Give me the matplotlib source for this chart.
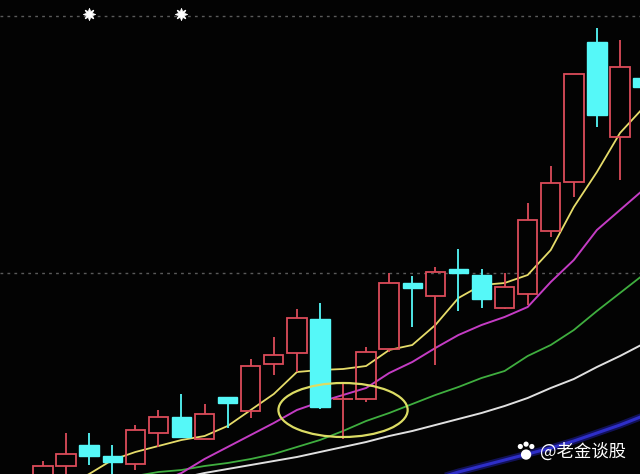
import numpy as np
import matplotlib
matplotlib.use('Agg')
import matplotlib.pyplot as plt
from matplotlib.patches import Rectangle, Ellipse

# daily candles
opens  = [9.88, 10.16, 10.58, 10.36, 10.20, 10.82, 11.14, 10.70, 11.54, 11.26, 12.20, 12.42, 13.10, 11.48,
          11.50, 12.50, 13.82, 13.56, 14.10, 13.98, 13.32, 13.60, 14.86, 15.84, 18.64, 16.74, 17.92]
highs  = [10.26, 10.82, 10.82, 10.58, 10.98, 11.28, 11.60, 11.40, 11.54, 12.30, 12.74, 13.30, 13.42, 11.80,
          12.54, 14.02, 13.96, 14.14, 14.50, 14.10, 14.02, 15.42, 16.16, 18.00, 18.92, 18.68, 18.08]
lows   = [9.80, 9.88, 10.18, 9.92, 10.08, 10.54, 10.74, 10.70, 10.92, 11.12, 11.98, 12.04, 11.30, 10.70,
          11.44, 12.44, 12.94, 12.18, 13.26, 13.32, 13.30, 13.38, 14.74, 15.54, 16.94, 15.88, 17.48]
closes = [10.16, 10.40, 10.36, 10.24, 10.88, 11.14, 10.74, 11.20, 11.42, 12.16, 12.38, 13.12, 11.34, 11.50,
          12.44, 13.82, 13.72, 14.04, 14.02, 13.50, 13.74, 15.08, 15.82, 18.00, 17.18, 18.14, 17.74]

# moving averages: (start index, values)
ma5_start = 1
ma5 = [9.75, 10.00, 10.28, 10.44, 10.56, 10.68, 10.76, 10.96, 11.28, 11.60, 12.04, 12.08, 12.10, 12.16,
       12.48, 12.58, 12.98, 13.52, 13.78, 13.82, 13.98, 14.48, 15.34, 16.04, 16.82, 17.32]
ma10_start = 5
ma10 = [9.84, 10.02, 10.30, 10.54, 10.78, 11.02, 11.28, 11.44, 11.58, 11.72, 12.02, 12.24, 12.52, 12.78,
        12.98, 13.14, 13.34, 13.84, 14.28, 14.88, 15.28, 15.68]
ma20_start = 4
ma20 = [9.96, 10.04, 10.08, 10.16, 10.22, 10.30, 10.40, 10.54, 10.68, 10.86, 11.06, 11.22, 11.40, 11.58,
        11.74, 11.92, 12.06, 12.36, 12.58, 12.88, 13.26, 13.62, 13.98]
ma30_start = 6
ma30 = [9.92, 10.02, 10.10, 10.18, 10.26, 10.34, 10.44, 10.54, 10.64, 10.76, 10.86, 10.98, 11.10, 11.22,
        11.36, 11.52, 11.72, 11.90, 12.14, 12.36, 12.60]
ma60_start = 17
ma60 = [9.90, 10.04, 10.16, 10.28, 10.40, 10.52, 10.66, 10.82, 10.98, 11.16]

ref_levels = [19.16, 14.02]
star_idx = [2, 6]
star_level = 19.20
circle_center = (13.0, 11.28)
circle_size = (5.6, 1.08)
watermark = '@老金谈股'

RED = '#dc4c5a'
CYAN = '#55f8f8'

fig = plt.figure(figsize=(6.4, 4.74), dpi=100, facecolor='#030303')
ax = fig.add_axes([0, 0, 1, 1])
ax.set_facecolor('#030303')
ax.set_xlim(-1.863, 25.867)
ax.set_ylim(10.0, 19.48)
ax.axis('off')

for lv in ref_levels:
  ax.axhline(lv, color='#5a5a5a', lw=1.0, ls=(0, (2, 3)), zorder=1)

def ma_line(start, vals, color, lw, alpha=1.0):
  xs = np.arange(start, start + len(vals))
  ax.plot(xs, vals, color=color, lw=lw, alpha=alpha, zorder=2)

# blue one has a soft glow in the screenshot
ma_line(ma60_start, ma60, '#1c1c90', 5.0, 0.6)
ma_line(ma60_start, ma60, '#2e2ec8', 2.2)
ma_line(ma30_start, ma30, '#e0e0e0', 1.4)
ma_line(ma20_start, ma20, '#3fae3f', 1.3)
ma_line(ma10_start, ma10, '#c43cc4', 1.4)

w = 0.84
for i in range(len(opens)):
  o, h, l, c = opens[i], highs[i], lows[i], closes[i]
  top, bot = max(o, c), min(o, c)
  if c >= o:
    ax.vlines(i, top, h, color=RED, lw=1.3, zorder=3)
    ax.vlines(i, l, bot, color=RED, lw=1.3, zorder=3)
    if top - bot < 0.05:
      ax.hlines(top, i - w / 2, i + w / 2, color=RED, lw=1.3, zorder=3)
    else:
      ax.add_patch(Rectangle((i - w / 2, bot), w, top - bot, facecolor='none',
                             edgecolor=RED, lw=1.3, zorder=3))
  else:
    ax.vlines(i, l, h, color=CYAN, lw=1.3, zorder=3)
    ax.add_patch(Rectangle((i - w / 2, bot), w, top - bot, facecolor=CYAN,
                           edgecolor=CYAN, lw=1.0, zorder=3))

ma_line(ma5_start, ma5, '#e6dc6a', 1.3)

ax.add_patch(Ellipse(circle_center, circle_size[0], circle_size[1], facecolor='none',
                     edgecolor='#dcdc64', lw=1.6, zorder=5))

ax.plot(star_idx, [star_level] * len(star_idx), marker=(8, 1, 0), color='white', ms=9,
        mew=0.5, ls='none', zorder=5)

# watermark with a little paw icon
paw_x = [0.822, 0.813, 0.822, 0.831]
paw_y = [0.041, 0.058, 0.063, 0.058]
paw_s = [55, 14, 14, 14]
fig_ax = fig.add_axes([0, 0, 1, 1], facecolor='none')
fig_ax.set_xlim(0, 1)
fig_ax.set_ylim(0, 1)
fig_ax.axis('off')
fig_ax.scatter(paw_x, paw_y, s=paw_s, color='white', lw=0)
fig.text(0.978, 0.048, watermark, color='white', fontsize=12.5, ha='right', va='center',
         family=['Noto Sans CJK SC', 'DejaVu Sans'])

fig.savefig('out.png', dpi=100, facecolor=fig.get_facecolor())
